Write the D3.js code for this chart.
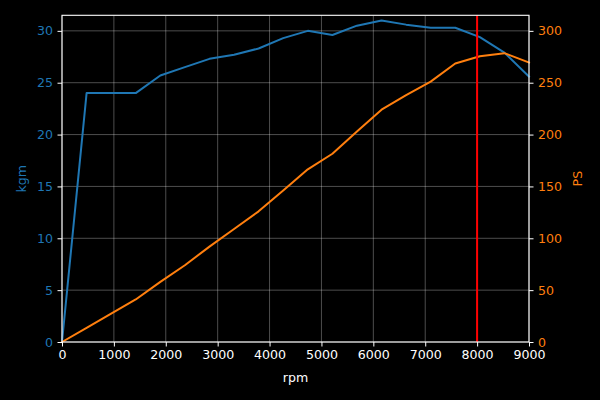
<!DOCTYPE html>
<html>
<head>
<meta charset="utf-8">
<script src="https://cdn.jsdelivr.net/npm/d3@7"></script>
<style>
html, body { margin: 0; padding: 0; background: #000; }
svg { display: block; }
text { font-family: "DejaVu Sans", sans-serif; }
</style>
</head>
<body>
<svg id="chart" width="600" height="400"></svg>
<script>
const rpm = [0, 474, 947, 1421, 1895, 2368, 2842, 3316, 3789, 4263, 4737, 5211, 5684, 6158, 6632, 7105, 7579, 8053, 8526, 9000];
const kgm = [0, 24.0, 24.0, 24.0, 25.7, 26.5, 27.3, 27.7, 28.3, 29.3, 30.0, 29.6, 30.5, 31.0, 30.6, 30.3, 30.3, 29.4, 27.9, 25.6];
const ps  = [0, 13.6, 27.3, 41, 58, 74, 92, 109, 126, 146, 166.5, 181.5, 203, 224, 238, 251, 268.5, 275.5, 278.5, 269.5];
const redLineRpm = 8000;
const xTicks = [0, 1000, 2000, 3000, 4000, 5000, 6000, 7000, 8000, 9000];
const kgmTicks = [0, 5, 10, 15, 20, 25, 30];
const psTicks = [0, 50, 100, 150, 200, 250, 300];

const BLUE = "#1f77b4", ORANGE = "#ff7f0e";
const L = 62, R = 529, T = 15.3, B = 342;
const FS = 12.6;

const svg = d3.select("#chart");
svg.append("rect").attr("width", 600).attr("height", 400).attr("fill", "#000");

const x = d3.scaleLinear().domain([0, 9000]).range([L, R]);
const yL = d3.scaleLinear().domain([0, 31.5]).range([B, T]);
const yR = d3.scaleLinear().domain([0, 315]).range([B, T]);

// grid
const grid = svg.append("g");
grid.selectAll("line.gx").data(xTicks).join("line")
  .attr("x1", d => x(d)).attr("x2", d => x(d)).attr("y1", T).attr("y2", B)
  .attr("stroke", "rgba(255,255,255,0.3)").attr("stroke-width", 1);
grid.selectAll("line.gy").data(kgmTicks).join("line")
  .attr("y1", d => yL(d)).attr("y2", d => yL(d)).attr("x1", L).attr("x2", R)
  .attr("stroke", "rgba(255,255,255,0.3)").attr("stroke-width", 1);

// lines
const idx = d3.range(rpm.length);
svg.append("path")
  .attr("d", d3.line().x(i => x(rpm[i])).y(i => yL(kgm[i]))(idx))
  .attr("fill", "none").attr("stroke", BLUE).attr("stroke-width", 2)
  .attr("stroke-linejoin", "round").attr("stroke-linecap", "square");
svg.append("path")
  .attr("d", d3.line().x(i => x(rpm[i])).y(i => yR(ps[i]))(idx))
  .attr("fill", "none").attr("stroke", ORANGE).attr("stroke-width", 2)
  .attr("stroke-linejoin", "round").attr("stroke-linecap", "square");

// red vertical line
svg.append("line")
  .attr("x1", x(redLineRpm)).attr("x2", x(redLineRpm)).attr("y1", T).attr("y2", B)
  .attr("stroke", "#ff0000").attr("stroke-width", 2);

// axes
function styleAxis(g, labelColor) {
  g.select(".domain").remove();
  g.selectAll(".tick line").attr("stroke", "#fff").attr("stroke-width", 1);
  g.selectAll(".tick text").attr("fill", labelColor)
    .style("font-family", "DejaVu Sans").style("font-size", FS + "px");
}
const gx = svg.append("g").attr("transform", `translate(0,${B})`)
  .call(d3.axisBottom(x).tickValues(xTicks).tickFormat(d3.format("d")).tickSize(4.5).tickPadding(4));
styleAxis(gx, "#fff");
const gl = svg.append("g").attr("transform", `translate(${L},0)`)
  .call(d3.axisLeft(yL).tickValues(kgmTicks).tickFormat(d3.format("d")).tickSize(4.5).tickPadding(4.5));
styleAxis(gl, BLUE);
const gr = svg.append("g").attr("transform", `translate(${R},0)`)
  .call(d3.axisRight(yR).tickValues(psTicks).tickFormat(d3.format("d")).tickSize(4.5).tickPadding(4.5));
styleAxis(gr, ORANGE);

// spines
svg.append("rect").attr("x", L).attr("y", T).attr("width", R - L).attr("height", B - T)
  .attr("fill", "none").attr("stroke", "#fff").attr("stroke-width", 1.1);

// labels
svg.append("text").attr("x", (L + R) / 2).attr("y", 382).attr("text-anchor", "middle")
  .attr("fill", "#fff").style("font-size", FS + "px").text("rpm");
svg.append("text").attr("transform", `translate(26,${(T + B) / 2}) rotate(-90)`)
  .attr("text-anchor", "middle").attr("fill", BLUE).style("font-size", FS + "px").text("kgm");
svg.append("text").attr("transform", `translate(582,${(T + B) / 2}) rotate(-90)`)
  .attr("text-anchor", "middle").attr("fill", ORANGE).style("font-size", FS + "px").text("PS");
</script>
</body>
</html>
